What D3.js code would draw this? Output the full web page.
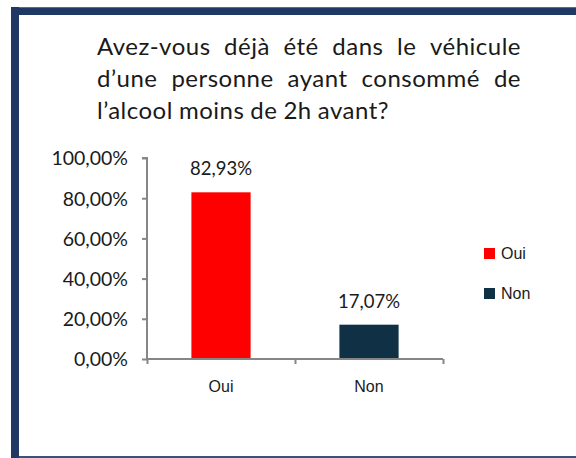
<!DOCTYPE html>
<html><head><meta charset="utf-8">
<script src="https://cdn.jsdelivr.net/npm/d3@7/dist/d3.min.js"></script>
<style>html,body{margin:0;padding:0;background:#fff;}svg{display:block;}</style>
</head><body>
<svg id="c" width="576" height="458"></svg>
<script>
const categories = ["Oui", "Non"];
const values = [82.93, 17.07];
const valueLabels = ["82,93%", "17,07%"];
const colors = ["#FF0000", "#0F3045"];
const yTicks = [0, 20, 40, 60, 80, 100];
const yTickLabels = ["0,00%", "20,00%", "40,00%", "60,00%", "80,00%", "100,00%"];
const titleLines = ["Avez-vous déjà été dans le véhicule", "d’une personne ayant consommé de", "l’alcool moins de 2h avant?"];

const svg = d3.select("#c");
const calibri = "Lato, 'Noto Sans', sans-serif";
const arial = "'Liberation Sans', Arial, sans-serif";

// frame
svg.append("rect").attr("x", 11).attr("y", 7).attr("width", 570).attr("height", 8).attr("fill", "#203864");
svg.append("line").attr("x1", 11).attr("x2", 576).attr("y1", 7.5).attr("y2", 7.5).attr("stroke", "#5a6b8c").attr("stroke-width", 1);
svg.append("rect").attr("x", 11).attr("y", 7).attr("width", 8).attr("height", 451).attr("fill", "#203864");
svg.append("rect").attr("x", 19).attr("y", 456).attr("width", 557).attr("height", 2).attr("fill", "#3b527a");

// title (justified)
const tX0 = 97, tX1 = 521;
const baselines = [55, 87, 119];
titleLines.forEach((line, i) => {
  const words = line.split(" ");
  const g = svg.append("g");
  const nodes = words.map(w => g.append("text").attr("font-family", calibri).attr("font-size", 24)
      .attr("letter-spacing", 0.5).attr("fill", "#1a1a1a").attr("y", baselines[i]).text(w));
  const widths = nodes.map(n => n.node().getComputedTextLength());
  const total = d3.sum(widths);
  const justify = i < titleLines.length - 1;
  const gap = justify ? (tX1 - tX0 - total) / (words.length - 1) : 6;
  let x = tX0;
  nodes.forEach((n, k) => { n.attr("x", x); x += widths[k] + gap; });
});

// scales
const y = d3.scaleLinear().domain([0, 100]).range([359, 158]);
const x = d3.scaleBand().domain(categories).range([147, 443]).paddingInner(0.6).paddingOuter(0.3);

const axisColor = "#868686";
// y axis
const yAxis = svg.append("g").attr("transform", "translate(147,0)")
  .call(d3.axisLeft(y).tickValues(yTicks).tickSize(5).tickFormat((d, i) => yTickLabels[i]));
yAxis.select(".domain").attr("stroke", axisColor).attr("stroke-width", 2).attr("d", `M-5,${y(100)}H0V${y(0)}`);
yAxis.selectAll(".tick line").attr("stroke", axisColor).attr("stroke-width", 2);
yAxis.selectAll(".tick text").attr("font-family", calibri).attr("font-size", 19.5).attr("fill", "#1a1a1a").attr("x", -19).attr("dy", "0.35em");

// bars
svg.selectAll(".bar").data(values).enter().append("rect")
  .attr("x", (d, i) => x(categories[i]))
  .attr("y", d => y(d))
  .attr("width", x.bandwidth())
  .attr("height", d => y(0) - y(d))
  .attr("fill", (d, i) => colors[i]);

// x axis
const xb = d3.scaleLinear().domain([0, categories.length]).range([147, 443]);
const xAxis = svg.append("g").attr("transform", `translate(0,${y(0)})`)
  .call(d3.axisBottom(xb).tickValues(d3.range(categories.length + 1)).tickSize(5).tickFormat(""));
xAxis.select(".domain").attr("stroke", axisColor).attr("stroke-width", 2).attr("d", `M147,0H443`);
xAxis.selectAll(".tick line").attr("stroke", axisColor).attr("stroke-width", 2);

svg.selectAll(".xl").data(categories).enter().append("text")
  .attr("x", d => x(d) + x.bandwidth() / 2).attr("y", 392)
  .attr("text-anchor", "middle").attr("font-family", arial).attr("font-size", 16).attr("fill", "#1a1a1a")
  .text(d => d);

// data labels
svg.selectAll(".vl").data(values).enter().append("text")
  .attr("x", (d, i) => x(categories[i]) + x.bandwidth() / 2)
  .attr("y", d => y(d) - 17)
  .attr("text-anchor", "middle").attr("font-family", calibri).attr("font-size", 18.5).attr("fill", "#1a1a1a")
  .text((d, i) => valueLabels[i]);

// legend
const leg = svg.append("g");
categories.forEach((c, i) => {
  const ly = 253 + i * 40;
  leg.append("rect").attr("x", 484).attr("y", ly - 5).attr("width", 11).attr("height", 11).attr("fill", colors[i]);
  leg.append("text").attr("x", 501).attr("y", ly + 6).attr("font-family", arial).attr("font-size", 16).attr("fill", "#1a1a1a").text(c);
});
</script>
</body></html>
